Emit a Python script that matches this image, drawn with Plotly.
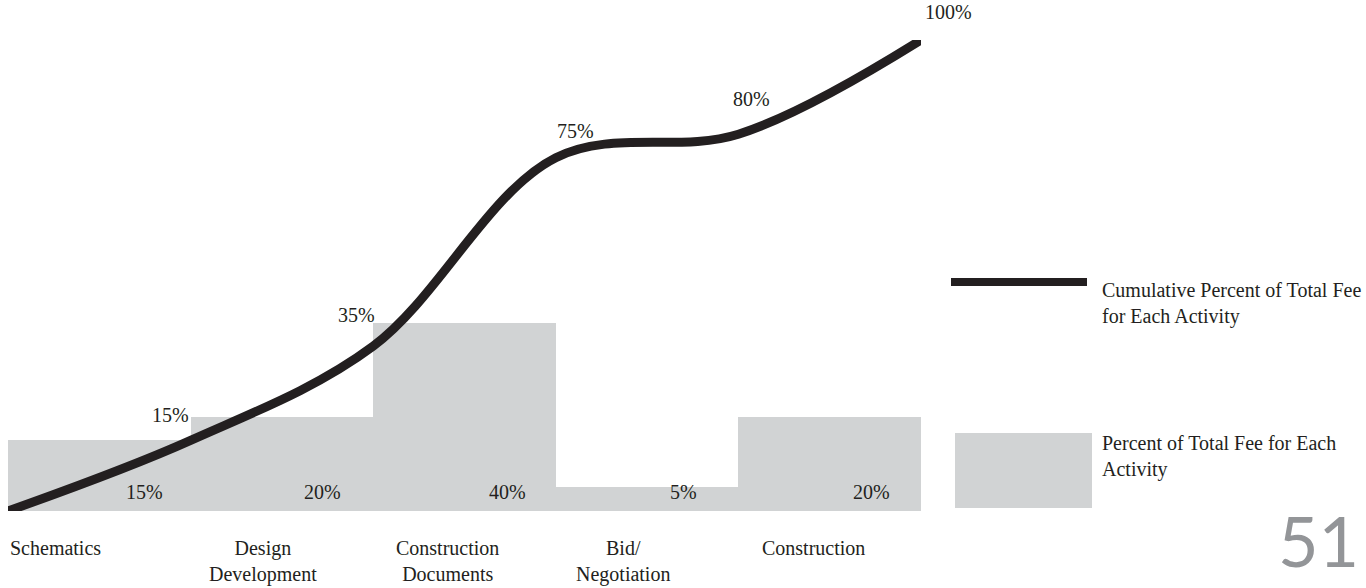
import plotly.graph_objects as go

# ---------------- data ----------------
categories = ["Schematics", "Design<br>Development", "Construction<br>Documents",
              "Bid/<br>Negotiation", "Construction"]
fee_pct = [15, 20, 40, 5, 20]              # percent of total fee for each activity
cum_pct = [0, 15, 35, 75, 80, 100]         # cumulative percent at each activity boundary
legend_line_text = "Cumulative Percent of Total Fee<br>for Each Activity"
legend_bar_text = "Percent of Total Fee for Each<br>Activity"
page_number = "51"

# ---------------- style / layout ----------------
W, H = 1366, 588
ML, MR, MT, MB = 8, 445, 40, 77
PW, PH = W - ML - MR, H - MT - MB
INK = "#231f20"
GRAY = "#d1d3d4"
SERIF = "Liberation Serif, Times New Roman, serif"


def px(xp):
    return (xp - ML) / PW


def py(yp):
    return (H - MB - yp) / PH


bar_x = [i + 0.5 for i in range(len(fee_pct))]
cum_x = list(range(len(cum_pct)))

fig = go.Figure()
fig.add_trace(go.Bar(x=bar_x, y=fee_pct, width=1, marker=dict(color=GRAY, line=dict(width=0)),
                     showlegend=False, hoverinfo="skip"))
fig.add_trace(go.Scatter(x=cum_x, y=cum_pct, mode="lines",
                         line=dict(color=INK, width=9, shape="spline", smoothing=1),
                         showlegend=False, hoverinfo="skip"))
# round the line ends
fig.add_trace(go.Scatter(x=[cum_x[0], cum_x[-1]], y=[cum_pct[0], cum_pct[-1]], mode="markers",
                         marker=dict(color=INK, size=9), showlegend=False, hoverinfo="skip"))

annotations = []
font = dict(family=SERIF, size=20, color=INK)

# cumulative labels (offsets in px relative to each point)
cum_dx = [0, -20, -17, 20, 13, 27]
cum_dy = [0, 25, 31, 27, 35, 28]
for i in range(1, len(cum_pct)):
    annotations.append(dict(x=cum_x[i], y=cum_pct[i], xref="x", yref="y", text=f"{cum_pct[i]}%",
                            showarrow=False, font=font, xshift=cum_dx[i], yshift=cum_dy[i],
                            xanchor="center", yanchor="middle"))

# bar labels near bar bottoms
bar_dx = [45, 41, 43, 36, 42]
for i, v in enumerate(fee_pct):
    annotations.append(dict(x=bar_x[i], y=0, xref="x", yref="y", text=f"{v}%", showarrow=False,
                            font=font, xshift=bar_dx[i], yshift=19, xanchor="center", yanchor="middle"))

# category labels
cat_dx = [-44, -19, -17, -24, -16]
for i, c in enumerate(categories):
    annotations.append(dict(x=bar_x[i], y=0, xref="x", yref="y", text=c, showarrow=False,
                            font=font, xshift=cat_dx[i], yshift=-24, xanchor="center",
                            yanchor="top", align="center"))

# legend texts
annotations.append(dict(x=px(1100), y=py(277), xref="paper", yref="paper", text=legend_line_text,
                        showarrow=False, font=font, xanchor="left", yanchor="top", align="left"))
annotations.append(dict(x=px(1100), y=py(430), xref="paper", yref="paper", text=legend_bar_text,
                        showarrow=False, font=font, xanchor="left", yanchor="top", align="left"))

# page number
annotations.append(dict(x=px(1318), y=py(496), xref="paper", yref="paper", text=page_number,
                        showarrow=False, font=dict(family="Lato, sans-serif", size=70, color="#939598"),
                        xanchor="center", yanchor="top"))

shapes = [
    dict(type="line", xref="paper", yref="paper", x0=px(951), x1=px(1087), y0=py(282), y1=py(282),
         line=dict(color=INK, width=8)),
    dict(type="rect", xref="paper", yref="paper", x0=px(955), x1=px(1092), y0=py(508), y1=py(433),
         fillcolor=GRAY, line=dict(width=0)),
]

fig.update_layout(
    width=W, height=H,
    margin=dict(l=ML, r=MR, t=MT, b=MB),
    paper_bgcolor="white", plot_bgcolor="white",
    xaxis=dict(range=[0, 5], visible=False, fixedrange=True),
    yaxis=dict(range=[0, 100], visible=False, fixedrange=True),
    bargap=0,
    annotations=annotations,
    shapes=shapes,
    showlegend=False,
)

fig.write_html("out.html")
